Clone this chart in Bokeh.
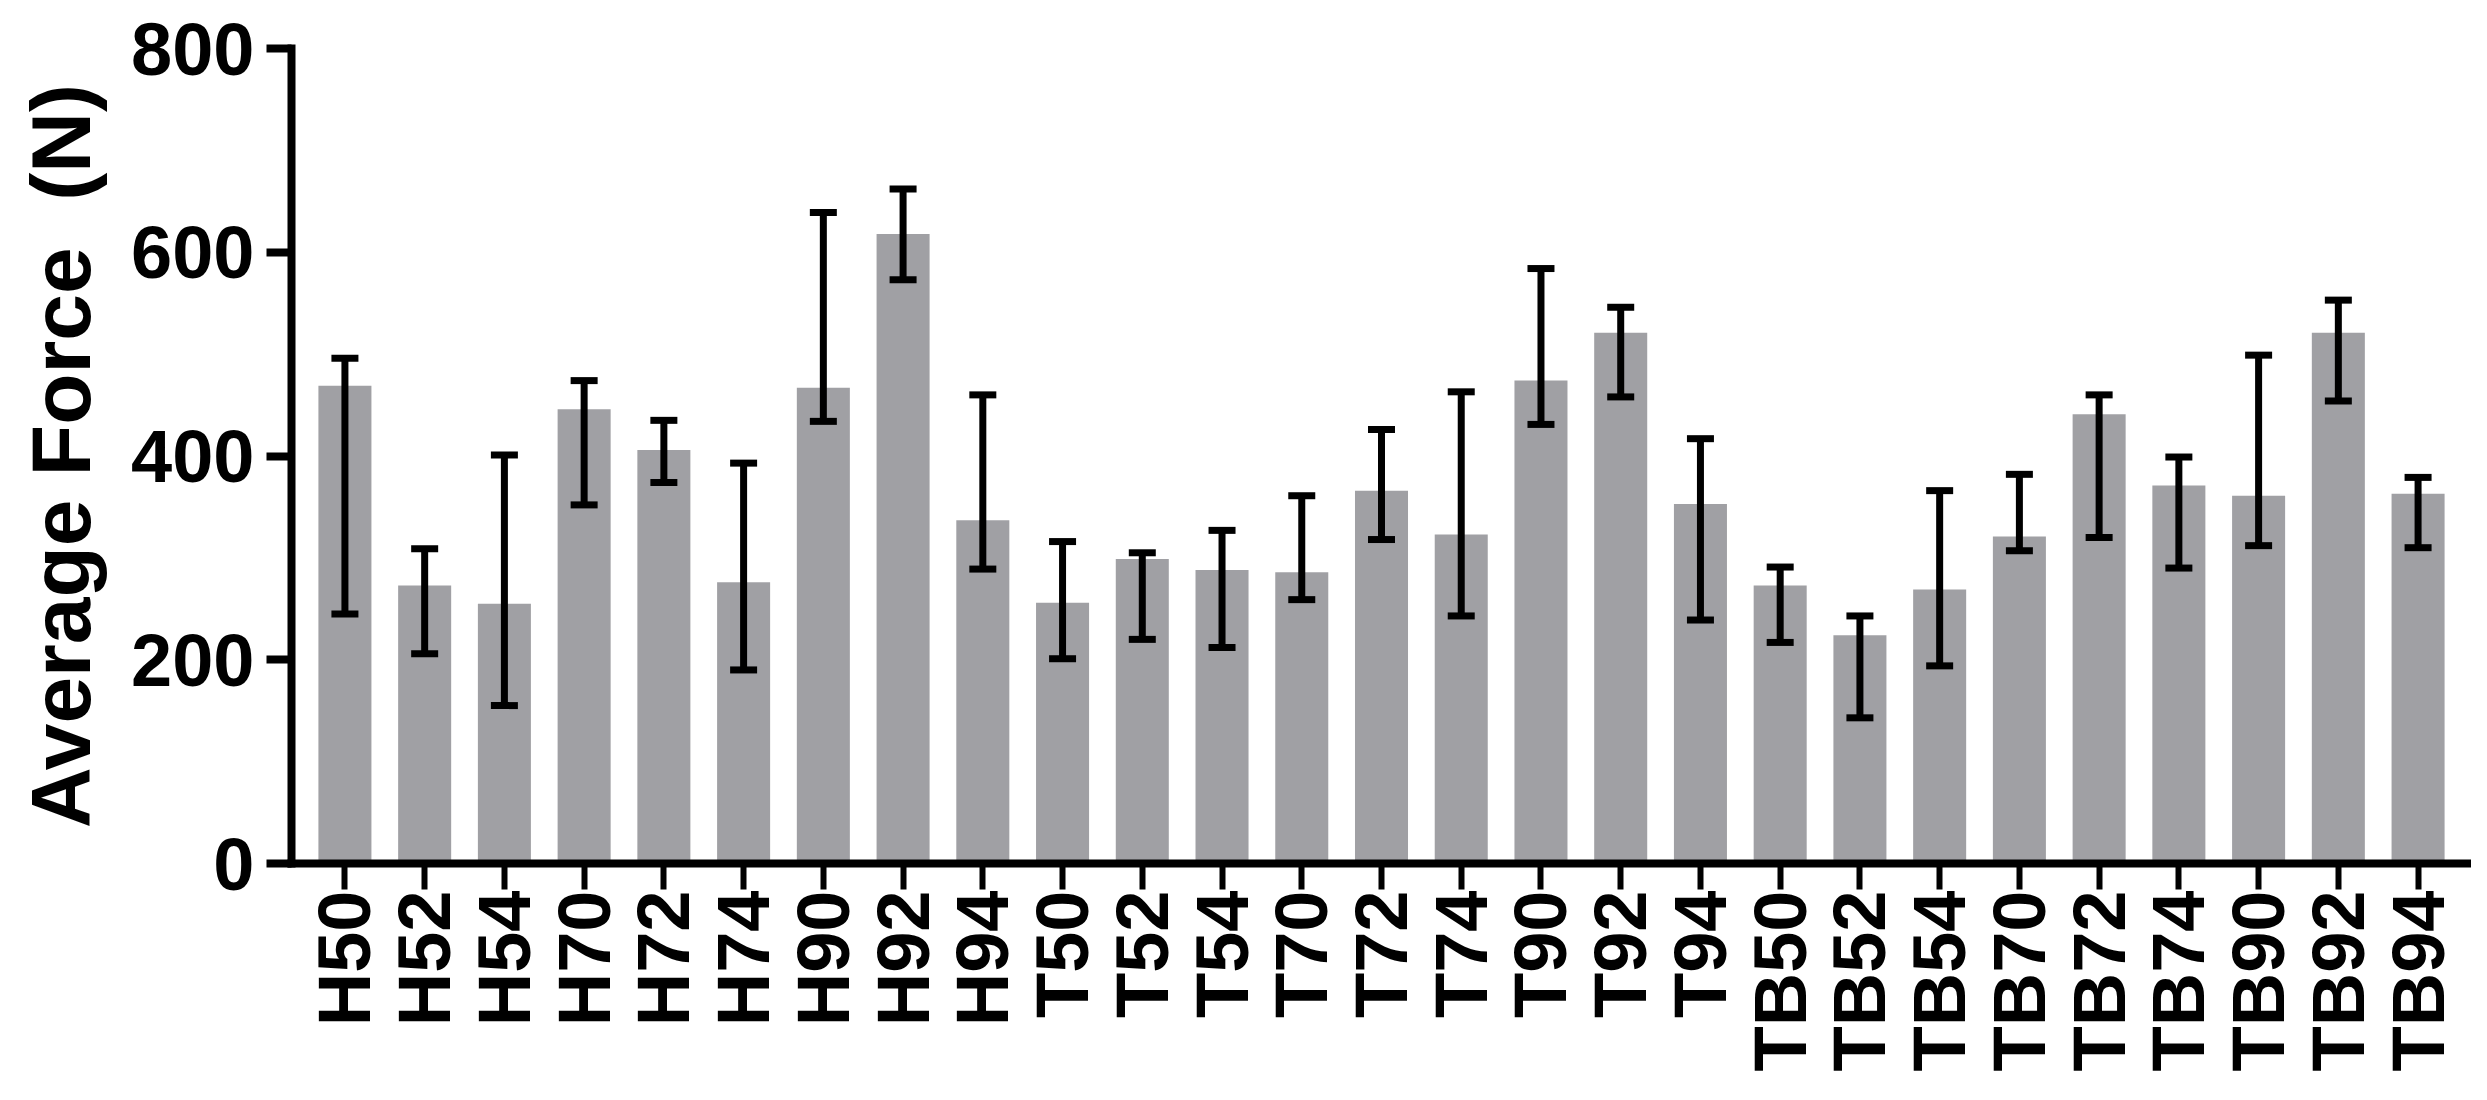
from bokeh.plotting import figure
from bokeh.models import ColumnDataSource, Whisker, TeeHead, FactorRange, SingleIntervalTicker, Range1d
from bokeh.embed import file_html
from bokeh.resources import INLINE

categories = ["H50", "H52", "H54", "H70", "H72", "H74", "H90", "H92", "H94",
              "T50", "T52", "T54", "T70", "T72", "T74", "T90", "T92", "T94",
              "TB50", "TB52", "TB54", "TB70", "TB72", "TB74", "TB90", "TB92", "TB94"]
means = [469, 273, 255, 446, 406, 276, 467, 618, 337,
         256, 299, 288, 286, 366, 323, 474, 521, 353,
         273, 224, 269, 321, 441, 371, 361, 521, 363]
upper = [496, 309, 401, 474, 435, 393, 639, 662, 460,
         316, 305, 327, 361, 426, 463, 584, 546, 417,
         291, 243, 366, 382, 460, 399, 499, 553, 379]
lower = [245, 206, 155, 352, 374, 190, 434, 573, 289,
         201, 220, 212, 259, 318, 243, 431, 458, 239,
         217, 143, 194, 307, 320, 290, 312, 454, 310]

src = ColumnDataSource(data=dict(cats=categories, means=means, upper=upper, lower=lower))

FONT = "Liberation Sans"

p = figure(width=2471, height=1084,
           x_range=FactorRange(factors=categories, range_padding=0.17, range_padding_units="absolute"),
           y_range=Range1d(0, 800),
           output_backend="svg", toolbar_location=None,
           min_border_left=291, min_border_right=0, min_border_top=48, min_border_bottom=221)

p.vbar(x="cats", top="means", width=0.665, source=src, fill_color="#a0a0a4", line_color=None)

wh = Whisker(source=src, base="cats", upper="upper", lower="lower",
             line_color="black", line_width=7,
             upper_head=TeeHead(size=27, line_width=7, line_color="black"),
             lower_head=TeeHead(size=27, line_width=7, line_color="black"),
             level="overlay")
p.add_layout(wh)

p.outline_line_color = None
p.xgrid.grid_line_color = None
p.ygrid.grid_line_color = None
p.background_fill_color = "white"
p.border_fill_color = "white"

p.yaxis.ticker = SingleIntervalTicker(interval=200, num_minor_ticks=0)
p.yaxis.axis_label = "Average Force\u00a0 (N)"

for ax in (p.xaxis[0], p.yaxis[0]):
    ax.axis_line_width = 8
    ax.axis_line_color = "black"
    ax.axis_line_cap = "square"
    ax.major_tick_line_width = 8
    ax.major_tick_line_color = "black"
    ax.major_tick_in = 0
    ax.minor_tick_line_color = None
    ax.major_label_text_font = FONT
    ax.major_label_text_font_style = "bold"
    ax.major_label_text_font_size = "74px"
    ax.major_label_text_color = "black"

p.yaxis.major_tick_out = 25
p.yaxis.major_label_standoff = 12
p.yaxis.axis_label_text_font = FONT
p.yaxis.axis_label_text_font_style = "bold"
p.yaxis.axis_label_text_font_size = "84px"
p.yaxis.axis_label_text_color = "black"
p.yaxis.axis_label_standoff = 20

p.xaxis.major_tick_out = 26
p.xaxis.major_label_standoff = 1
p.xaxis.major_label_orientation = 1.5707963267948966
p.xaxis.major_tick_line_width = 6

open("out.html", "w").write(file_html(p, INLINE))
